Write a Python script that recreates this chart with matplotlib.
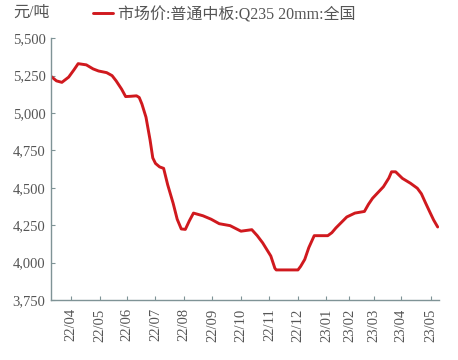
import matplotlib
matplotlib.use('Agg')
import matplotlib.pyplot as plt
from matplotlib.ticker import FuncFormatter

plt.rcParams['font.family'] = ['Liberation Serif', 'Noto Sans CJK SC']

# Observation index (trading-day style) and price, yuan/ton
obs = [0, 4, 8, 13, 17, 20, 26, 31, 35, 41, 45, 48, 52, 55, 59, 63, 65, 67,
       70, 73, 75, 77, 80, 83, 86, 90, 93, 96, 99, 102, 105, 112, 118, 124,
       132, 140, 144, 148, 152, 156, 162, 165, 166, 182, 184, 187, 190, 194,
       204, 207, 210, 218, 224, 231, 234, 237, 245, 249, 251, 254, 259, 265,
       270, 273, 276, 279, 282, 285]
price = [5245, 5215, 5205, 5240, 5290, 5330, 5322, 5295, 5281, 5270, 5250,
         5215, 5160, 5110, 5112, 5115, 5104, 5060, 4972, 4820, 4700, 4663,
         4640, 4630, 4520, 4397, 4290, 4225, 4222, 4280, 4331, 4313, 4290,
         4260, 4247, 4210, 4215, 4220, 4180, 4132, 4044, 3962, 3951, 3951,
         3975, 4021, 4100, 4180, 4180, 4200, 4232, 4305, 4331, 4342, 4390,
         4430, 4507, 4565, 4607, 4607, 4563, 4530, 4497, 4460, 4400, 4342,
         4285, 4238]

month_obs = [15, 36, 56, 77, 98, 119, 140, 161, 182, 203, 220, 238, 258, 280]
month_labels = ['22/04', '22/05', '22/06', '22/07', '22/08', '22/09', '22/10',
                '22/11', '22/12', '23/01', '23/02', '23/03', '23/04', '23/05']

series_name = '市场价:普通中板:Q235 20mm:全国'

fig = plt.figure(figsize=(4.58, 3.6), dpi=100)
ax = fig.add_axes([0.1114, 0.1667, 0.8472, 0.7271])

ax.plot(obs, price, color='#d0191e', lw=2.1, solid_joinstyle='round',
        solid_capstyle='round', label=series_name)

ax.set_xlim(0, 286)
ax.set_ylim(3750, 5500)
ax.set_yticks(range(3750, 5501, 250))
ax.yaxis.set_major_formatter(FuncFormatter(lambda v, p: f'{int(v):,}'))
ax.set_xticks(month_obs)
ax.set_xticklabels(month_labels, rotation=90)

axis_col = '#7f9396'
for s in ['top', 'right']:
    ax.spines[s].set_visible(False)
for s in ['left', 'bottom']:
    ax.spines[s].set_color(axis_col)
    ax.spines[s].set_linewidth(1.0)
ax.tick_params(direction='in', length=3, width=0.8, color=axis_col,
               labelsize=10.5, labelcolor='#555555', pad=4)
ax.tick_params(axis='x', pad=6)

fig.text(0.028, 0.965, '元/吨', fontsize=11.5, color='#555555', va='center')
ax.legend(loc='upper left', bbox_to_anchor=(0.07, 1.175), frameon=False,
          fontsize=11.5, handlelength=1.3, handletextpad=0.3,
          labelcolor='#555555')

fig.savefig('out.png', dpi=100, facecolor='white')
plt.close()
